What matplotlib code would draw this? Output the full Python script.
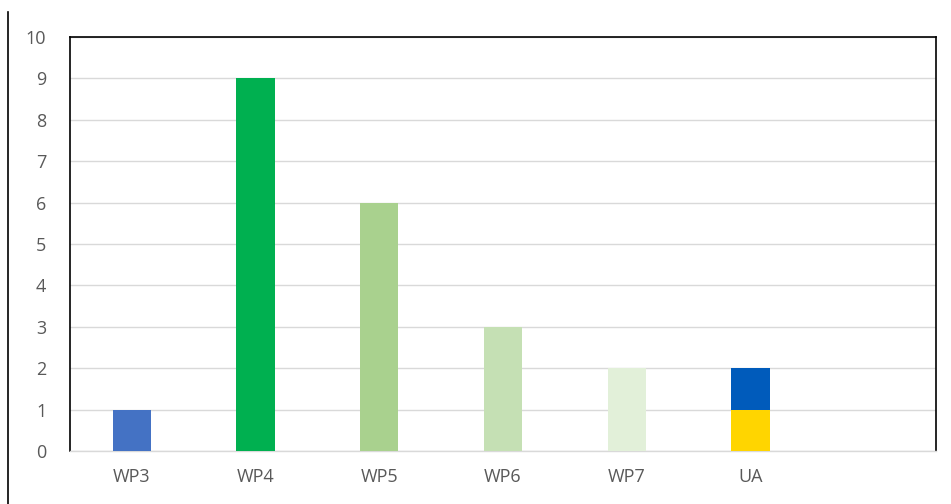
"""Bar chart of work package counts with a split UA bar."""

import matplotlib.pyplot as plt
from matplotlib.lines import Line2D
import numpy as np

categories = ["WP3", "WP4", "WP5", "WP6", "WP7", "UA", ""]
base_values = [1, 9, 6, 3, 2, 1, 0]
top_values = [0, 0, 0, 0, 0, 1, 0]
base_colors = ["#4472C4", "#00B050", "#A9D18E", "#C5E0B4", "#E2F0D9", "#FFD500", "#FFFFFF"]
top_color = "#005BBB"
y_ticks = list(range(0, 11))

plt.rcParams["font.family"] = ["Open Sans", "DejaVu Sans"]

fig = plt.figure(figsize=(9.51, 5.04), dpi=100)
ax = fig.add_axes([70 / 951, 1 - 451 / 504, 866 / 951, 414 / 504])

x = np.arange(len(categories))
width = 0.31
ax.bar(x, base_values, width=width, color=base_colors, zorder=3)
ax.bar(x, top_values, width=width, bottom=base_values, color=top_color, zorder=3)

ax.set_xlim(-0.5, len(categories) - 0.5)
ax.set_ylim(0, 10)
ax.set_yticks(y_ticks)
ax.set_xticks(x)
ax.set_xticklabels(categories)
ax.tick_params(axis="both", length=0, labelsize=13, labelcolor="#595959")
ax.tick_params(axis="y", pad=17)
ax.tick_params(axis="x", pad=12)

ax.grid(axis="y", color="#D9D9D9", linewidth=1, zorder=0)
ax.set_axisbelow(True)
for side in ["top", "left", "right"]:
    ax.spines[side].set_color("#000000")
    ax.spines[side].set_linewidth(1.2)
ax.spines["bottom"].set_color("#D9D9D9")
ax.spines["bottom"].set_linewidth(1)

# thin frame line on the left edge of the image
fig.add_artist(Line2D([7.5 / 951, 7.5 / 951], [0, 1 - 12 / 504], color="black", linewidth=1.2))

fig.savefig("out.png", dpi=100)
